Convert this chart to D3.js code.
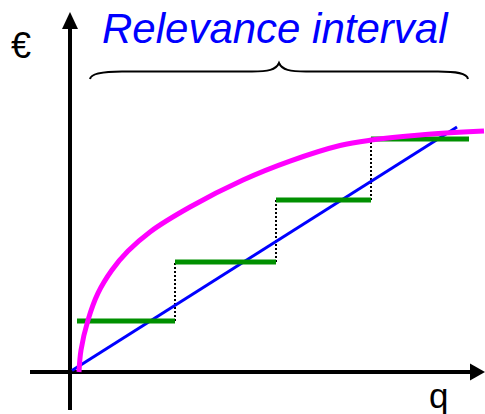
<!DOCTYPE html>
<html>
<head>
<meta charset="utf-8">
<script src="https://cdn.jsdelivr.net/npm/d3@7"></script>
<style>
  html, body { margin: 0; padding: 0; background: #fff; }
  svg { display: block; }
</style>
</head>
<body>
<svg id="chart" width="485" height="414"></svg>
<script>
// ---- data ----
const titleText = "Relevance interval";
const yLabel = "€";
const xLabel = "q";

// linear cost line (q, €)
const linePoints = [[0.5, 0.5], [96.75, 81.7]];

// step function levels
const stepStarts = [1.75, 26.25, 51.5, 75.25];
const stepEnds   = [26.25, 51.5, 75.25, 99.75];
const stepValues = [17, 36.7, 57.3, 77.7];

// concave (magenta) curve samples
const curveQ = [2.25, 2.75, 4.5, 7, 10.5, 14.5, 20, 30, 43.25, 55, 67.5, 75.25, 87.5, 103.5];
const curveV = [0, 7.3, 17.3, 26.3, 34, 40.3, 46.7, 55, 64, 70.3, 75.5, 77.3, 79, 80.3];

// ---- drawing ----
const svg = d3.select("#chart");
const x = d3.scaleLinear().domain([0, 100]).range([70, 470]);
const y = d3.scaleLinear().domain([0, 100]).range([372, 72]);

// axes
svg.append("line").attr("x1", 30).attr("x2", 472).attr("y1", y(0)).attr("y2", y(0))
  .attr("stroke", "#000").attr("stroke-width", 4);
svg.append("path").attr("d", `M485,${y(0)} L470,${y(0) - 8.5} L470,${y(0) + 8.5} Z`).attr("fill", "#000");
svg.append("line").attr("x1", x(0)).attr("x2", x(0)).attr("y1", 410).attr("y2", 27)
  .attr("stroke", "#000").attr("stroke-width", 4);
svg.append("path").attr("d", `M${x(0)},12 L${x(0) - 8},29 L${x(0) + 8},29 Z`).attr("fill", "#000");

// dotted verticals between steps
for (let i = 0; i < stepValues.length - 1; i++) {
  svg.append("line")
    .attr("x1", x(stepEnds[i])).attr("x2", x(stepEnds[i]))
    .attr("y1", y(stepValues[i])).attr("y2", y(stepValues[i + 1]))
    .attr("stroke", "#000").attr("stroke-width", 2).attr("stroke-dasharray", "2,2");
}

// blue line
svg.append("path")
  .attr("d", d3.line().x(d => x(d[0])).y(d => y(d[1]))(linePoints))
  .attr("fill", "none").attr("stroke", "#0000ff").attr("stroke-width", 3);

// green steps
stepValues.forEach((v, i) => {
  svg.append("line")
    .attr("x1", x(stepStarts[i])).attr("x2", x(stepEnds[i]))
    .attr("y1", y(v)).attr("y2", y(v))
    .attr("stroke", "#009000").attr("stroke-width", 5);
});

// magenta curve
const curvePts = curveQ.map((q, i) => [q, curveV[i]]);
svg.append("path")
  .attr("d", d3.line().x(d => x(d[0])).y(d => y(d[1])).curve(d3.curveCatmullRom.alpha(0.5))(curvePts))
  .attr("fill", "none").attr("stroke", "#ff00ff").attr("stroke-width", 5);

// brace
svg.append("path")
  .attr("d", "M90,79 C91,73 104,71.5 122,71.5 L252,71.5 C268,71.5 276,70 279,63 C282,70 290,71.5 306,71.5 L438,71.5 C456,71.5 467,73 468,79")
  .attr("fill", "none").attr("stroke", "#000").attr("stroke-width", 2);

// texts
svg.append("text").attr("x", 102).attr("y", 43)
  .attr("font-family", "Liberation Sans, Arial, sans-serif").attr("font-style", "italic")
  .attr("font-size", 42).attr("fill", "#0000ff").text(titleText);
svg.append("text").attr("x", 11).attr("y", 58)
  .attr("font-family", "Liberation Sans, Arial, sans-serif")
  .attr("font-size", 36).attr("fill", "#000").text(yLabel);
svg.append("text").attr("x", 429).attr("y", 408)
  .attr("font-family", "Liberation Sans, Arial, sans-serif")
  .attr("font-size", 35).attr("fill", "#000").text(xLabel);
</script>
</body>
</html>
